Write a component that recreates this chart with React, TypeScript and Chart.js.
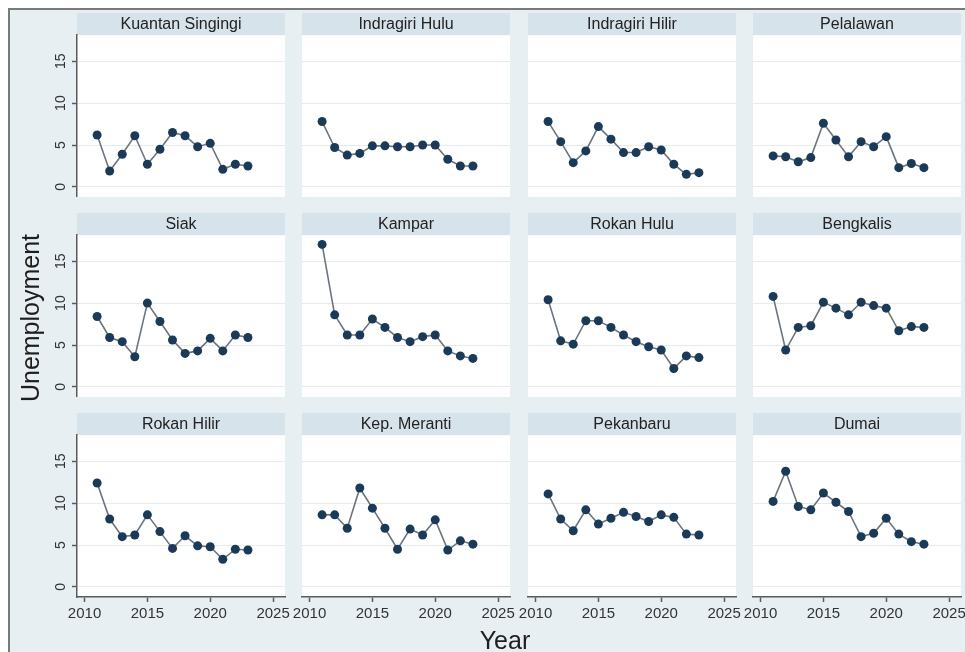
import React, { useEffect, useRef } from "react";
import { Chart, registerables } from "chart.js";

Chart.register(...registerables);

// ---------- data ----------
const years = [2011, 2012, 2013, 2014, 2015, 2016, 2017, 2018, 2019, 2020, 2021, 2022, 2023];

const regionNames = [
  "Kuantan Singingi", "Indragiri Hulu", "Indragiri Hilir", "Pelalawan",
  "Siak", "Kampar", "Rokan Hulu", "Bengkalis",
  "Rokan Hilir", "Kep. Meranti", "Pekanbaru", "Dumai",
];

const kuantanSingingi = [6.2, 1.9, 3.9, 6.1, 2.7, 4.5, 6.5, 6.1, 4.8, 5.2, 2.1, 2.7, 2.5];
const indragiriHulu = [7.8, 4.7, 3.8, 4.0, 4.9, 4.9, 4.8, 4.8, 5.0, 5.0, 3.3, 2.5, 2.5];
const indragiriHilir = [7.8, 5.4, 2.9, 4.3, 7.2, 5.7, 4.1, 4.1, 4.8, 4.4, 2.7, 1.5, 1.7];
const pelalawan = [3.7, 3.6, 3.0, 3.5, 7.6, 5.6, 3.6, 5.4, 4.8, 6.0, 2.3, 2.8, 2.3];
const siak = [8.4, 5.9, 5.4, 3.6, 10.0, 7.8, 5.6, 4.0, 4.3, 5.8, 4.3, 6.2, 5.9];
const kampar = [17.0, 8.6, 6.2, 6.2, 8.1, 7.1, 5.9, 5.4, 6.0, 6.2, 4.3, 3.7, 3.4];
const rokanHulu = [10.4, 5.5, 5.1, 7.9, 7.9, 7.1, 6.2, 5.4, 4.8, 4.4, 2.2, 3.7, 3.5];
const bengkalis = [10.8, 4.4, 7.1, 7.3, 10.1, 9.4, 8.6, 10.1, 9.7, 9.4, 6.7, 7.2, 7.1];
const rokanHilir = [12.4, 8.1, 6.0, 6.2, 8.6, 6.6, 4.6, 6.1, 4.9, 4.8, 3.3, 4.5, 4.4];
const kepMeranti = [8.6, 8.6, 7.0, 11.8, 9.4, 7.0, 4.5, 6.9, 6.2, 8.0, 4.4, 5.5, 5.1];
const pekanbaru = [11.1, 8.1, 6.7, 9.2, 7.5, 8.2, 8.9, 8.4, 7.8, 8.6, 8.3, 6.3, 6.2];
const dumai = [10.2, 13.8, 9.6, 9.2, 11.2, 10.1, 9.0, 6.0, 6.4, 8.2, 6.3, 5.4, 5.1];

const seriesList = [
  kuantanSingingi, indragiriHulu, indragiriHilir, pelalawan,
  siak, kampar, rokanHulu, bengkalis,
  rokanHilir, kepMeranti, pekanbaru, dumai,
];

const yTickValues = [0, 5, 10, 15];
const xTickValues = [2010, 2015, 2020, 2025];

// ---------- style ----------
const FONT = "'Liberation Sans', Arial, Helvetica, sans-serif";
const BG = "#e8eff3";
const STRIP = "#d7e3eb";
const AXIS = "#5a5a5a";
const GRID = "#e6ebee";
const LINE = "#6b7580";
const MARKER = "#1b3a58";

const PLOT_W = 208;
const PLOT_H = 162;
const STRIP_H = 22;
const Y_AXIS_W = 45;
const X_AXIS_H = 35;
const SIDE_PAD = 20;
const OFFSET = 10; // body margin + border

const panelBgPlugin = {
  id: "panelBg",
  beforeDraw(chart: any) {
    const { ctx, chartArea } = chart;
    ctx.save();
    ctx.fillStyle = STRIP;
    ctx.fillRect(chartArea.left, 0, chartArea.right - chartArea.left, chartArea.top);
    ctx.fillStyle = "#ffffff";
    ctx.fillRect(chartArea.left, chartArea.top, chartArea.right - chartArea.left, chartArea.bottom - chartArea.top);
    ctx.restore();
  },
};

function Panel({ title, values, row, col }: { title: string; values: number[]; row: number; col: number }) {
  const ref = useRef<HTMLCanvasElement | null>(null);
  const showY = col === 0;
  const showX = row === 2;
  const padL = showY ? Y_AXIS_W : 0;
  const padB = showX ? X_AXIS_H : 0;
  const side = showX ? SIDE_PAD : 0;
  const W = PLOT_W + padL + 2 * side;
  const H = STRIP_H + PLOT_H + padB;
  const plotLeft = 77 + col * 225.3 - OFFSET;
  const plotTop = 35 + row * 200 - OFFSET;

  useEffect(() => {
    if (!ref.current) return;
    const chart = new Chart(ref.current, {
      type: "line",
      data: {
        datasets: [
          {
            data: years.map((y, i) => ({ x: y, y: values[i] })),
            borderColor: LINE,
            borderWidth: 1.6,
            pointRadius: 4.5,
            pointBackgroundColor: MARKER,
            pointBorderColor: MARKER,
            pointBorderWidth: 0,
            tension: 0,
          },
        ],
      },
      options: {
        animation: false,
        responsive: false,
        devicePixelRatio: 1,
        layout: { autoPadding: false, padding: { left: side, right: side, top: 0, bottom: 0 } },
        plugins: {
          legend: { display: false },
          tooltip: { enabled: false },
          title: {
            display: true,
            text: title,
            fullSize: false,
            color: "#222222",
            font: { family: FONT, size: 16, weight: "normal", lineHeight: 1.2 },
            padding: { top: 2, bottom: 1 },
          },
        },
        scales: {
          x: {
            type: "linear",
            min: 2009.4,
            max: 2025.95,
            display: showX,
            afterBuildTicks: (s: any) => {
              s.ticks = xTickValues.map((v) => ({ value: v }));
            },
            afterFit: (s: any) => {
              s.height = padB;
              s.paddingLeft = 0;
              s.paddingRight = 0;
              s.paddingTop = 0;
              s.paddingBottom = 0;
            },
            grid: {
              drawOnChartArea: false,
              drawTicks: true,
              tickLength: 5,
              tickColor: AXIS,
              tickWidth: 1.5,
            },
            border: { display: true, color: AXIS, width: 1.5 },
            ticks: {
              autoSkip: false,
              maxRotation: 0,
              padding: 3,
              color: "#333333",
              font: { family: FONT, size: 15 },
              callback: (v: any) => String(v),
            },
          },
          y: {
            type: "linear",
            min: -1.2,
            max: 18.1,
            afterBuildTicks: (s: any) => {
              s.ticks = yTickValues.map((v) => ({ value: v }));
            },
            afterFit: (s: any) => {
              s.width = padL;
              s.paddingLeft = 0;
              s.paddingRight = 0;
              s.paddingTop = 0;
              s.paddingBottom = 0;
            },
            grid: {
              color: GRID,
              lineWidth: 1,
              drawTicks: showY,
              tickLength: 5,
              tickColor: AXIS,
              tickWidth: 1.5,
            },
            border: { display: showY, color: AXIS, width: 1.5 },
            ticks: {
              display: showY,
              minRotation: 90,
              maxRotation: 90,
              crossAlign: "center",
              padding: 3,
              color: "#333333",
              font: { family: FONT, size: 14 },
              callback: (v: any) => String(v),
            },
          },
        },
      } as any,
      plugins: [panelBgPlugin],
    });
    return () => chart.destroy();
  }, []);

  return (
    <canvas
      ref={ref}
      width={W}
      height={H}
      style={{ position: "absolute", left: plotLeft - padL - side, top: plotTop - STRIP_H, width: W, height: H }}
    />
  );
}

export default function App() {
  return (
    <div
      style={{
        position: "fixed",
        left: 8,
        top: 8,
        width: 957,
        height: 644,
        background: BG,
        borderTop: "2px solid #7a7a7a",
        borderLeft: "2px solid #7a7a7a",
        boxSizing: "border-box",
        overflow: "hidden",
        fontFamily: FONT,
      }}
    >
      {regionNames.map((name, i) => (
        <Panel key={name} title={name} values={seriesList[i]} row={Math.floor(i / 4)} col={i % 4} />
      ))}
      <div
        style={{
          position: "absolute",
          left: 30 - OFFSET - 150,
          top: 318 - OFFSET - 16,
          width: 300,
          height: 32,
          lineHeight: "32px",
          textAlign: "center",
          fontSize: 25,
          color: "#1e1e1e",
          transform: "rotate(-90deg)",
          whiteSpace: "nowrap",
        }}
      >
        Unemployment
      </div>
      <div
        style={{
          position: "absolute",
          left: 505 - OFFSET - 60,
          top: 640 - OFFSET - 16,
          width: 120,
          height: 32,
          lineHeight: "32px",
          textAlign: "center",
          fontSize: 25,
          color: "#1e1e1e",
          whiteSpace: "nowrap",
        }}
      >
        Year
      </div>
    </div>
  );
}
